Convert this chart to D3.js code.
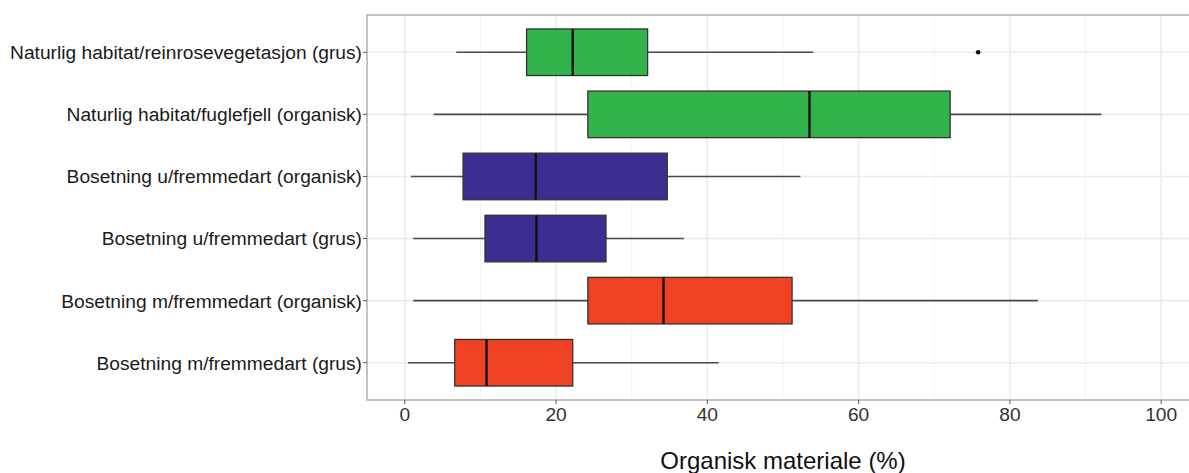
<!DOCTYPE html>
<html>
<head>
<meta charset="utf-8">
<script src="https://cdn.jsdelivr.net/npm/d3@7.9.0/dist/d3.min.js"></script>
<style>
  body { margin: 0; background: #fff; overflow: hidden; }
  svg { display: block; font-family: 'Liberation Sans', Arial, sans-serif; }
</style>
</head>
<body>
<svg id="chart" width="1189" height="473"></svg>
<script>
// categories top to bottom
const categories = [
  'Naturlig habitat/reinrosevegetasjon (grus)',
  'Naturlig habitat/fuglefjell (organisk)',
  'Bosetning u/fremmedart (organisk)',
  'Bosetning u/fremmedart (grus)',
  'Bosetning m/fremmedart (organisk)',
  'Bosetning m/fremmedart (grus)'
];
const groups = ['natur', 'natur', 'uten', 'uten', 'med', 'med'];
const whiskerLow = [6.8, 3.8, 0.8, 1.1, 1.1, 0.4];
const q1 = [16.1, 24.2, 7.7, 10.6, 24.2, 6.6];
const median = [22.2, 53.5, 17.3, 17.4, 34.2, 10.8];
const q3 = [32.1, 72.1, 34.7, 26.6, 51.2, 22.2];
const whiskerHigh = [54.0, 92.1, 52.3, 36.9, 83.7, 41.5];
const outliers = [[75.8], [], [], [], [], []];
const xTicks = [0, 20, 40, 60, 80, 100];
const xMinor = [10, 30, 50, 70, 90];
const xTitle = 'Organisk materiale (%)';

const colors = d3.scaleOrdinal()
  .domain(['natur', 'uten', 'med'])
  .range(['#33b34b', '#3a2f90', '#ef4124']);

const rows = categories.map((name, i) => ({
  name,
  group: groups[i],
  lo: whiskerLow[i],
  q1: q1[i],
  med: median[i],
  q3: q3[i],
  hi: whiskerHigh[i],
  out: outliers[i]
}));

const panel = { left: 367, top: 15, right: 1199, bottom: 400 };
const svg = d3.select('#chart');

const x = d3.scaleLinear().domain([-5, 105]).range([panel.left, panel.right]);
// ggplot-like discrete axis: 0.6 units of padding on each side
const y = d3.scalePoint().domain(categories)
  .range([panel.top, panel.bottom]).padding(0.6);
const yc = (name) => y(name);
const boxH = y.step() * 0.75;

// grid
const grid = svg.append('g');
grid.selectAll('line.minor').data(xMinor).join('line')
  .attr('class', 'minor')
  .attr('x1', d => x(d)).attr('x2', d => x(d))
  .attr('y1', panel.top).attr('y2', panel.bottom)
  .attr('stroke', '#f3f3f3').attr('stroke-width', 1);
grid.selectAll('line.majx').data(xTicks).join('line')
  .attr('class', 'majx')
  .attr('x1', d => x(d)).attr('x2', d => x(d))
  .attr('y1', panel.top).attr('y2', panel.bottom)
  .attr('stroke', '#ebebeb').attr('stroke-width', 1.6);
grid.selectAll('line.majy').data(categories).join('line')
  .attr('class', 'majy')
  .attr('x1', panel.left).attr('x2', panel.right)
  .attr('y1', d => yc(d)).attr('y2', d => yc(d))
  .attr('stroke', '#ebebeb').attr('stroke-width', 1.6);

// boxes
const box = svg.append('g').selectAll('g').data(rows).join('g');
box.append('line')
  .attr('x1', d => x(d.lo)).attr('x2', d => x(d.q1))
  .attr('y1', d => yc(d.name)).attr('y2', d => yc(d.name))
  .attr('stroke', '#4a4a4a').attr('stroke-width', 1.6);
box.append('line')
  .attr('x1', d => x(d.q3)).attr('x2', d => x(d.hi))
  .attr('y1', d => yc(d.name)).attr('y2', d => yc(d.name))
  .attr('stroke', '#4a4a4a').attr('stroke-width', 1.6);
box.append('rect')
  .attr('x', d => x(d.q1)).attr('width', d => x(d.q3) - x(d.q1))
  .attr('y', d => yc(d.name) - boxH / 2).attr('height', boxH)
  .attr('fill', d => colors(d.group))
  .attr('stroke', '#333').attr('stroke-width', 1.3);
box.append('line')
  .attr('x1', d => x(d.med)).attr('x2', d => x(d.med))
  .attr('y1', d => yc(d.name) - boxH / 2).attr('y2', d => yc(d.name) + boxH / 2)
  .attr('stroke', '#111').attr('stroke-width', 2.4);
box.selectAll('circle').data(d => d.out.map(v => ({ v, name: d.name }))).join('circle')
  .attr('cx', d => x(d.v)).attr('cy', d => yc(d.name))
  .attr('r', 2.3).attr('fill', '#111');

// panel border
svg.append('rect')
  .attr('x', panel.left).attr('y', panel.top)
  .attr('width', panel.right - panel.left).attr('height', panel.bottom - panel.top)
  .attr('fill', 'none').attr('stroke', '#b3b3b3').attr('stroke-width', 1.6);

// y axis
const yAxis = svg.append('g').attr('transform', `translate(${panel.left},0)`);
yAxis.selectAll('line').data(categories).join('line')
  .attr('x1', -4).attr('x2', 0)
  .attr('y1', d => yc(d)).attr('y2', d => yc(d))
  .attr('stroke', '#555').attr('stroke-width', 1);
yAxis.selectAll('text').data(categories).join('text')
  .attr('x', -5).attr('y', d => yc(d))
  .attr('dy', '0.36em')
  .attr('text-anchor', 'end')
  .attr('font-size', 19.2)
  .attr('fill', '#1a1a1a')
  .text(d => d);

// x axis
const xAxis = svg.append('g').attr('transform', `translate(0,${panel.bottom})`);
xAxis.selectAll('line').data(xTicks).join('line')
  .attr('x1', d => x(d)).attr('x2', d => x(d))
  .attr('y1', 0).attr('y2', 4)
  .attr('stroke', '#555').attr('stroke-width', 1);
xAxis.selectAll('text').data(xTicks).join('text')
  .attr('x', d => x(d)).attr('y', 21)
  .attr('text-anchor', 'middle')
  .attr('font-size', 19.2)
  .attr('fill', '#333')
  .text(d => d);

svg.append('text')
  .attr('x', (panel.left + panel.right) / 2)
  .attr('y', 469)
  .attr('text-anchor', 'middle')
  .attr('font-size', 24)
  .attr('fill', '#111')
  .text(xTitle);
</script>
</body>
</html>
